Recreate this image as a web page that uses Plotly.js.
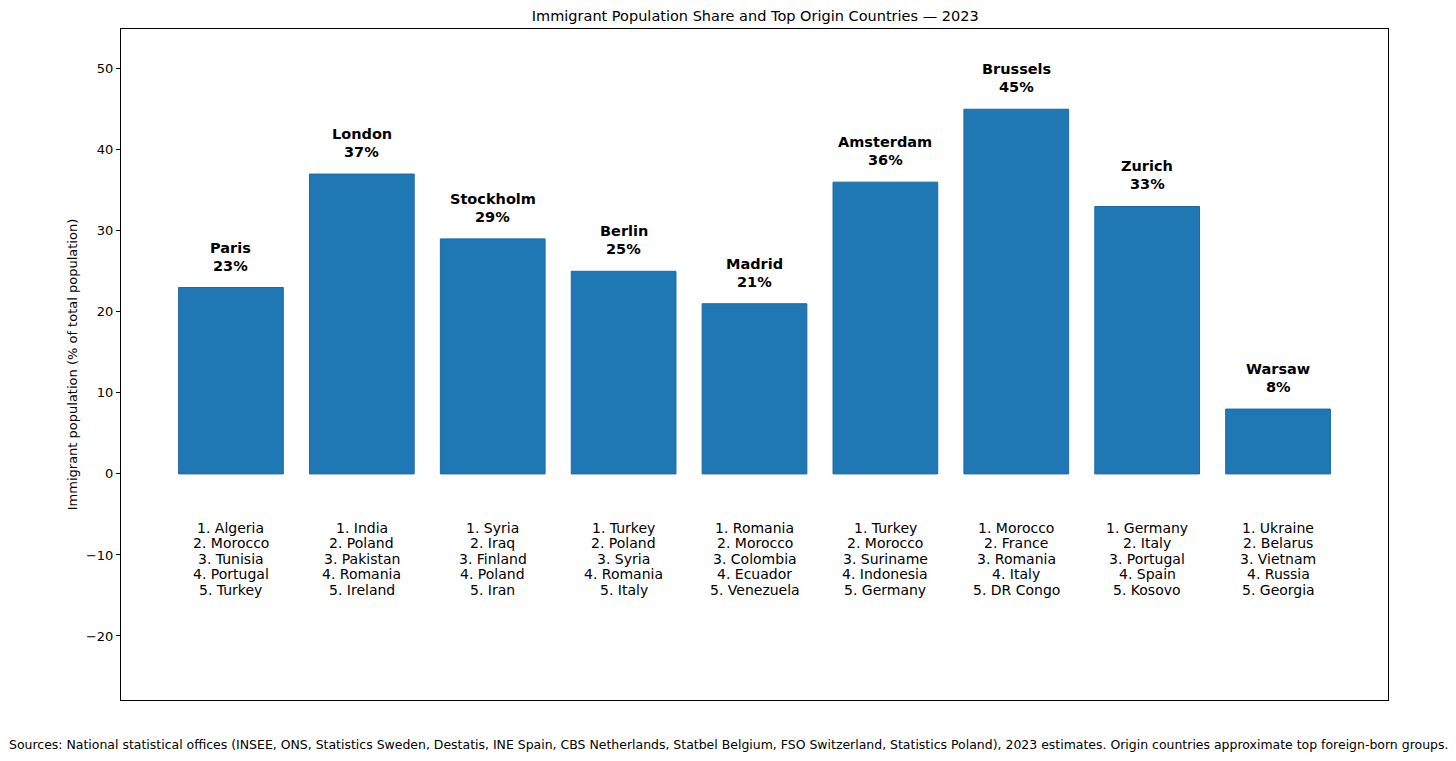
<!DOCTYPE html>
<html>
<head>
<meta charset="utf-8">
<script src="https://cdn.plot.ly/plotly-3.0.1.min.js"></script>
<style>
  html, body { margin: 0; padding: 0; background: #fff; }
  #chart { width: 1456px; height: 761px; }
</style>
</head>
<body>
<div id="chart"></div>
<script>
const cities = ['Paris', 'London', 'Stockholm', 'Berlin', 'Madrid', 'Amsterdam', 'Brussels', 'Zurich', 'Warsaw'];
const shares = [23, 37, 29, 25, 21, 36, 45, 33, 8];
const origins = [
  ['Algeria', 'Morocco', 'Tunisia', 'Portugal', 'Turkey'],
  ['India', 'Poland', 'Pakistan', 'Romania', 'Ireland'],
  ['Syria', 'Iraq', 'Finland', 'Poland', 'Iran'],
  ['Turkey', 'Poland', 'Syria', 'Romania', 'Italy'],
  ['Romania', 'Morocco', 'Colombia', 'Ecuador', 'Venezuela'],
  ['Turkey', 'Morocco', 'Suriname', 'Indonesia', 'Germany'],
  ['Morocco', 'France', 'Romania', 'Italy', 'DR Congo'],
  ['Germany', 'Italy', 'Portugal', 'Spain', 'Kosovo'],
  ['Ukraine', 'Belarus', 'Vietnam', 'Russia', 'Georgia'],
];
const listCenter = -10.5;
const sourceNote = 'Sources: National statistical offices (INSEE, ONS, Statistics Sweden, Destatis, INE Spain, CBS Netherlands, Statbel Belgium, FSO Switzerland, Statistics Poland), 2023 estimates. Origin countries approximate top foreign-born groups.';

const FONT = 'DejaVu Sans, Verdana, sans-serif';
const positions = cities.map((c, i) => i);

const annotations = [];
cities.forEach((city, i) => {
  annotations.push({
    x: i, y: shares[i], xref: 'x', yref: 'y',
    text: `<b>${city}</b>`, showarrow: false,
    xanchor: 'center', yanchor: 'middle', yshift: 40,
    font: { family: FONT, size: 14.5, color: '#000' },
  });
  annotations.push({
    x: i, y: shares[i], xref: 'x', yref: 'y',
    text: `<b>${shares[i]}%</b>`, showarrow: false,
    xanchor: 'center', yanchor: 'middle', yshift: 22,
    font: { family: FONT, size: 14.5, color: '#000' },
  });
  origins[i].forEach((country, k) => {
    annotations.push({
      x: i, y: listCenter, xref: 'x', yref: 'y',
      text: `${k + 1}. ${country}`, showarrow: false,
      xanchor: 'center', yanchor: 'middle', yshift: -(k - 2) * 15.5,
      font: { family: FONT, size: 14, color: '#000' },
    });
  });
});

annotations.push({
  x: -0.0884, y: -0.067, xref: 'paper', yref: 'paper',
  text: sourceNote, showarrow: false,
  xanchor: 'left', yanchor: 'middle', xshift: -2,
  font: { family: FONT, size: 12.47, color: '#000' },
});

const trace = {
  x: positions,
  y: shares,
  type: 'bar',
  width: 0.8,
  marker: { color: '#1f77b4', line: { color: '#1c6aa3', width: 1 } },
  hoverinfo: 'skip',
};

const layout = {
  width: 1456,
  height: 761,
  margin: { l: 121, r: 68, t: 29, b: 61 },
  paper_bgcolor: '#fff',
  plot_bgcolor: '#fff',
  showlegend: false,
  font: { family: FONT, color: '#000', size: 13 },
  title: {
    text: 'Immigrant Population Share and Top Origin Countries — 2023',
    x: 0.5187, xanchor: 'center', y: 0.979, yanchor: 'middle',
    font: { family: FONT, size: 14.5, color: '#000' },
  },
  xaxis: {
    range: [-0.84, 8.84],
    showticklabels: false,
    ticks: '',
    showgrid: false,
    zeroline: false,
    showline: true, mirror: true, linecolor: '#000', linewidth: 1,
  },
  yaxis: {
    range: [-27.9, 54.9],
    tickvals: [-20, -10, 0, 10, 20, 30, 40, 50],
    ticks: 'outside', ticklen: 4, tickcolor: '#000', tickwidth: 1,
    tickfont: { family: FONT, size: 13, color: '#000' },
    showgrid: false,
    zeroline: false,
    showline: true, mirror: true, linecolor: '#000', linewidth: 1,
    title: {
      text: 'Immigrant population (% of total population)',
      font: { family: FONT, size: 13, color: '#000' },
      standoff: 5,
    },
  },
  annotations: annotations,
};

Plotly.newPlot('chart', [trace], layout, { displayModeBar: false, staticPlot: true });
</script>
</body>
</html>
